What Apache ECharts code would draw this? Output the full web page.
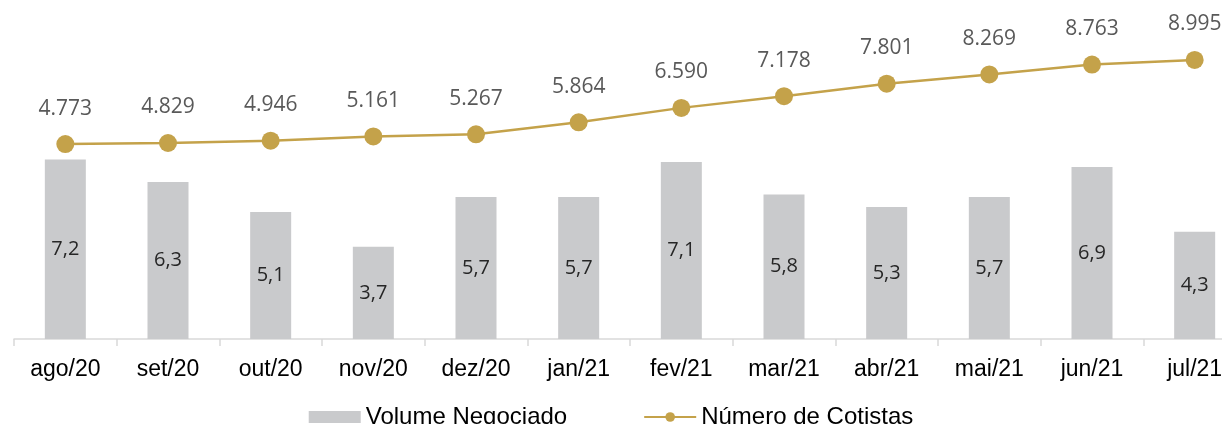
<!DOCTYPE html>
<html>
<head>
<meta charset="utf-8">
<script src="https://cdn.jsdelivr.net/npm/echarts@6/dist/echarts.min.js"></script>
<style>html,body{margin:0;padding:0;background:#fff}#c{width:1222px;height:424px}</style>
</head>
<body>
<div id="c"></div>
<script>
const categories = ['ago/20','set/20','out/20','nov/20','dez/20','jan/21','fev/21','mar/21','abr/21','mai/21','jun/21','jul/21'];
const volumeNegociado = [7.2, 6.3, 5.1, 3.7, 5.7, 5.7, 7.1, 5.8, 5.3, 5.7, 6.9, 4.3];
const numeroCotistas = [4773, 4829, 4946, 5161, 5267, 5864, 6590, 7178, 7801, 8269, 8763, 8995];

function fmtThousands(v){ return String(v).replace(/\B(?=(\d{3})+(?!\d))/g, '.'); }
function fmtDecimal(v){ return v.toFixed(1).replace('.', ','); }

const chart = echarts.init(document.getElementById('c'));
chart.setOption({
  animation: false,
  grid: { left: 14, width: 1232, top: 0, height: 339, containLabel: false, outerBoundsMode: 'none' },
  legend: {
    top: 400, left: 'center',
    itemWidth: 52, itemHeight: 12, itemGap: 76,
    textStyle: { fontFamily: 'Liberation Sans', fontSize: 24, color: '#000' },
    data: [
      { name: 'Volume Negociado', icon: 'rect' },
      { name: 'Número de Cotistas' }
    ]
  },
  xAxis: {
    type: 'category', data: categories,
    axisLine: { lineStyle: { color: '#d9d9d9', width: 1.5 } },
    axisTick: { show: true, length: 7, lineStyle: { color: '#d9d9d9', width: 1.5 } },
    axisLabel: { fontFamily: 'Liberation Sans', fontSize: 23, color: '#000', margin: 19 }
  },
  yAxis: [
    { type: 'value', min: 0, max: 13.6, show: false, splitLine: { show: false } },
    { type: 'value', min: -5000, max: 12000, show: false, splitLine: { show: false } }
  ],
  series: [
    {
      name: 'Volume Negociado', type: 'bar', yAxisIndex: 0,
      data: volumeNegociado, barWidth: 41,
      itemStyle: { color: '#c9cacc' },
      label: { show: true, position: 'inside', formatter: p => fmtDecimal(p.value),
        fontFamily: 'Open Sans', fontSize: 20, color: '#262626' }
    },
    {
      name: 'Número de Cotistas', type: 'line', yAxisIndex: 1,
      data: numeroCotistas,
      symbol: 'circle', symbolSize: 18,
      lineStyle: { color: '#c4a24a', width: 2.5 },
      itemStyle: { color: '#c4a24a' },
      label: { show: true, position: 'top', distance: 16, formatter: p => fmtThousands(p.value),
        fontFamily: 'Open Sans', fontSize: 21, color: '#595959' }
    }
  ]
});
</script>
</body>
</html>
